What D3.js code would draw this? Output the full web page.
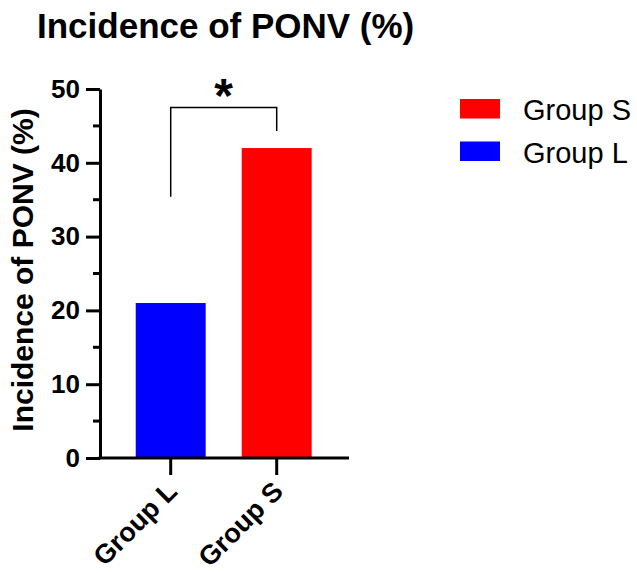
<!DOCTYPE html>
<html>
<head>
<meta charset="utf-8">
<script src="https://cdn.jsdelivr.net/npm/d3@7"></script>
<style>
  body { margin: 0; background: #fff; }
  svg { font-family: "Liberation Sans", Arial, Helvetica, sans-serif; }
</style>
</head>
<body>
<svg width="637" height="573"></svg>
<script>
// data
const groups = ["Group L", "Group S"];
const incidence = [21, 42];
const colors = ["#0000ff", "#ff0000"];
const legendOrder = ["Group S", "Group L"];
const yTicks = [0, 10, 20, 30, 40, 50];
const yMinorTicks = [5, 15, 25, 35, 45];
// significance bracket (data units)
const bracketTop = 47.5;
const bracketLeftEnd = 35.4;
const bracketRightEnd = 44.3;
const sigLabel = "*";

const svg = d3.select("svg");

const x = d3.scaleBand()
  .domain(groups)
  .range([117.7, 329.7])
  .paddingInner(0.34)
  .paddingOuter(0.17);

const y = d3.scaleLinear().domain([0, 50]).range([458, 89]);

const colorOf = d3.scaleOrdinal().domain(groups).range(colors);

// title
svg.append("text")
  .attr("x", 37).attr("y", 38)
  .attr("font-size", 35).attr("font-weight", "bold")
  .text("Incidence of PONV (%)");

// bars
svg.selectAll("rect.bar")
  .data(groups.map((g, i) => ({ g, v: incidence[i] })))
  .join("rect")
  .attr("class", "bar")
  .attr("x", d => x(d.g))
  .attr("width", x.bandwidth())
  .attr("y", d => y(d.v))
  .attr("height", d => y(0) - y(d.v))
  .attr("fill", d => colorOf(d.g));

// y axis
const yAxis = svg.append("g")
  .attr("transform", "translate(100,0)")
  .call(d3.axisLeft(y).tickValues(yTicks).tickSize(14).tickPadding(6).tickSizeOuter(0));
yAxis.select(".domain").attr("stroke-width", 3);
yAxis.selectAll(".tick line").attr("stroke-width", 3);
yAxis.selectAll(".tick text")
  .attr("font-size", 26).attr("font-weight", "bold")
  .attr("font-family", "Liberation Sans, Arial, sans-serif")
  .attr("fill", "#000");

svg.append("g")
  .attr("transform", "translate(100,0)")
  .selectAll("line")
  .data(yMinorTicks)
  .join("line")
  .attr("x1", -7).attr("x2", 0)
  .attr("y1", d => y(d)).attr("y2", d => y(d))
  .attr("stroke", "#000").attr("stroke-width", 3);

// x axis
const xAxisG = svg.append("g").attr("transform", `translate(0,${y(0)})`);
xAxisG.append("line")
  .attr("x1", 98.5).attr("x2", 349)
  .attr("stroke", "#000").attr("stroke-width", 3);
xAxisG.selectAll("line.tk")
  .data(groups)
  .join("line")
  .attr("class", "tk")
  .attr("x1", d => x(d) + x.bandwidth() / 2)
  .attr("x2", d => x(d) + x.bandwidth() / 2)
  .attr("y1", 0).attr("y2", 17)
  .attr("stroke", "#000").attr("stroke-width", 3);
xAxisG.selectAll("text")
  .data(groups)
  .join("text")
  .attr("transform", d => `translate(${x(d) + x.bandwidth() / 2 + 8},${35}) rotate(-45)`)
  .attr("text-anchor", "end")
  .attr("font-size", 27).attr("font-weight", "bold")
  .text(d => d);

// y title
svg.append("text")
  .attr("transform", "translate(33,270) rotate(-90)")
  .attr("text-anchor", "middle")
  .attr("font-size", 30).attr("font-weight", "bold")
  .text("Incidence of PONV (%)");

// significance bracket
const cx = groups.map(g => x(g) + x.bandwidth() / 2);
svg.append("path")
  .attr("d", `M${cx[0]},${y(bracketLeftEnd)}V${y(bracketTop)}H${cx[1]}V${y(bracketRightEnd)}`)
  .attr("fill", "none").attr("stroke", "#000").attr("stroke-width", 1.5);
svg.append("text")
  .attr("x", (cx[0] + cx[1]) / 2).attr("y", 112)
  .attr("text-anchor", "middle")
  .attr("font-size", 48).attr("font-weight", "bold")
  .text(sigLabel);

// legend
const legend = svg.append("g").attr("transform", "translate(460,99)");
const li = legend.selectAll("g")
  .data(legendOrder)
  .join("g")
  .attr("transform", (d, i) => `translate(0,${i * 42.5})`);
li.append("rect")
  .attr("width", 40).attr("height", 19.5)
  .attr("fill", d => colorOf(d));
li.append("text")
  .attr("x", 63).attr("y", 21)
  .attr("font-size", 29)
  .text(d => d);
</script>
</body>
</html>
